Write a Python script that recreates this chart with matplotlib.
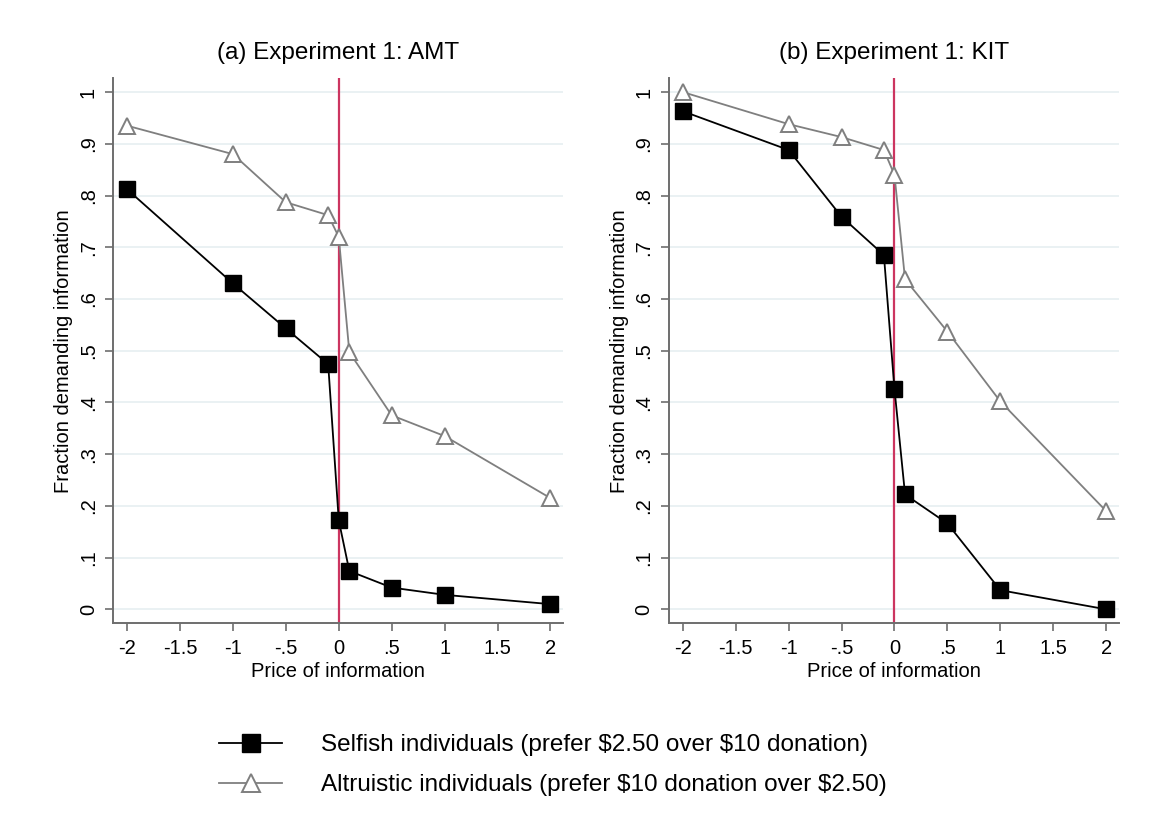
import matplotlib
matplotlib.use("Agg")
import matplotlib.pyplot as plt

plt.rcParams['font.family'] = ['Liberation Sans', 'DejaVu Sans']

price = [-2, -1, -0.5, -0.1, 0, 0.1, 0.5, 1, 2]

amt_selfish = [0.812, 0.630, 0.543, 0.474, 0.172, 0.074, 0.042, 0.028, 0.010]
amt_altruistic = [0.935, 0.880, 0.787, 0.762, 0.720, 0.497, 0.375, 0.335, 0.215]

kit_selfish = [0.963, 0.888, 0.759, 0.685, 0.426, 0.222, 0.166, 0.037, 0.000]
kit_altruistic = [1.000, 0.938, 0.913, 0.888, 0.840, 0.638, 0.537, 0.402, 0.190]

titles = ["(a) Experiment 1: AMT", "(b) Experiment 1: KIT"]
xticks = [-2, -1.5, -1, -0.5, 0, 0.5, 1, 1.5, 2]
xticklabels = ["-2", "-1.5", "-1", "-.5", "0", ".5", "1", "1.5", "2"]
yticks = [0, 0.1, 0.2, 0.3, 0.4, 0.5, 0.6, 0.7, 0.8, 0.9, 1]
yticklabels = ["0", ".1", ".2", ".3", ".4", ".5", ".6", ".7", ".8", ".9", "1"]

label_selfish = "Selfish individuals (prefer \\$2.50 over \\$10 donation)"
label_altruistic = "Altruistic individuals (prefer \\$10 donation over \\$2.50)"

fig = plt.figure(figsize=(11.57, 8.40), dpi=100)
ax1 = fig.add_axes([0.0977, 0.258, 0.389, 0.649])
ax2 = fig.add_axes([0.578, 0.258, 0.389, 0.649])

grey = "#7f7f7f"
spine_col = "#6e6e6e"

for ax, sel, alt, title in [(ax1, amt_selfish, amt_altruistic, titles[0]),
                            (ax2, kit_selfish, kit_altruistic, titles[1])]:
    for y in yticks:
        ax.axhline(y, color="#e6eff1", lw=1.2, zorder=0)
    ax.axvline(0, color="#cc3560", lw=1.6, zorder=1)
    l1, = ax.plot(price, sel, color="black", lw=1.3, marker="s", ms=12,
                  mfc="black", mec="black", zorder=3, label=label_selfish)
    l2, = ax.plot(price, alt, color=grey, lw=1.3, marker="^", ms=12,
                  mfc="white", mec=grey, mew=1.4, zorder=2, label=label_altruistic)
    ax.set_xlim(-2.133, 2.12)
    ax.set_ylim(-0.027, 1.027)
    ax.set_xticks(xticks)
    ax.set_xticklabels(xticklabels)
    ax.set_yticks(yticks)
    ax.set_yticklabels(yticklabels, rotation=90, va="center")
    ax.tick_params(axis="both", direction="out", length=6, width=1.2,
                   color=spine_col, labelsize=14.5, pad=5)
    for s in ["top", "right"]:
        ax.spines[s].set_visible(False)
    for s in ["left", "bottom"]:
        ax.spines[s].set_color(spine_col)
        ax.spines[s].set_linewidth(1.4)
    ax.set_title(title, fontsize=17.5, pad=14)
    ax.set_xlabel("Price of information", fontsize=14.5, labelpad=3)
    ax.set_ylabel("Fraction demanding information", fontsize=14.5, labelpad=4)

fig.legend(handles=[l1, l2], loc="center", bbox_to_anchor=(0.478, 0.089),
           frameon=False, fontsize=17.5, handlelength=2.6, labelspacing=0.75,
           handletextpad=1.6, markerscale=1.1)

fig.savefig("out.png", dpi=100, facecolor="white")
